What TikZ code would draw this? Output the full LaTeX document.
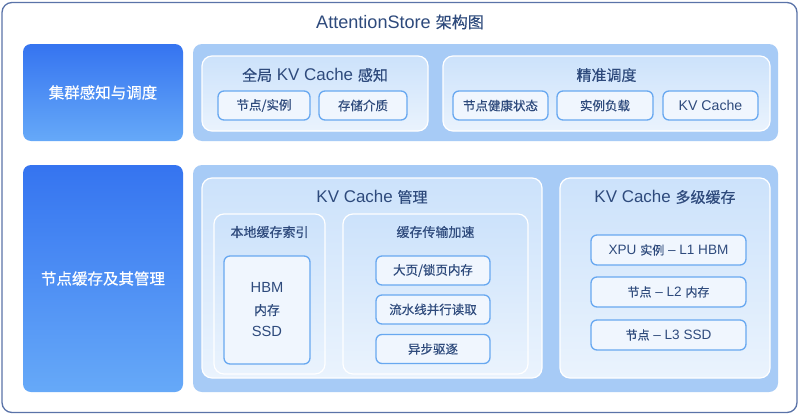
\documentclass[tikz,border=0pt]{standalone}
\usepackage{fontspec}
\setmainfont{Liberation Sans}[Scale=1.13]
\newfontfamily\cjk{Noto Sans CJK SC}[FakeBold=0.4]
\newcommand{\zh}[1]{{\cjk #1}}
\definecolor{frameC}{HTML}{5A73A8}
\definecolor{txtC}{HTML}{2E4A7C}
\definecolor{leftTop}{HTML}{3574F0}
\definecolor{leftBot}{HTML}{66A9F8}
\definecolor{panelC}{HTML}{A7CBF6}
\definecolor{innerTop}{HTML}{CCE2FB}
\definecolor{innerBot}{HTML}{EAF3FD}
\definecolor{subFill}{HTML}{F0F6FE}
\definecolor{subLine}{HTML}{68A8F0}
\tikzset{
  frame/.style={draw=frameC, line width=1.3pt, rounded corners=10pt, fill=white, inner sep=0pt},
  leftbox/.style={rounded corners=8pt, top color=leftTop, bottom color=leftBot, text=white, font=\cjk\fontsize{15.5pt}{18pt}\selectfont, inner sep=0pt},
  panel/.style={rounded corners=9pt, fill=panelC, inner sep=0pt},
  inner/.style={rounded corners=10pt, draw=white, line width=1.2pt, top color=innerTop, bottom color=innerBot, inner sep=0pt},
  subbox/.style={rounded corners=6pt, draw=subLine, line width=1.3pt, fill=subFill, text=txtC, font=\fontsize{12.5pt}{15pt}\selectfont, inner sep=0pt},
  ttl/.style={text=txtC, font=\fontsize{15pt}{18pt}\selectfont, inner sep=0pt},
  sttl/.style={text=txtC, font=\fontsize{13pt}{16pt}\selectfont, inner sep=0pt},
}
\begin{document}
\begin{tikzpicture}[x=1pt,y=-1pt]
\useasboundingbox (0,0) rectangle (800,415);
\node[frame, minimum width=795pt, minimum height=410pt] (frm) at (399.5,207.5) {};
\node[text=txtC, font=\fontsize{16pt}{20pt}\selectfont, inner sep=0pt] (title) at (400,22) {AttentionStore \zh{架构图}};

% left column
\node[leftbox, minimum width=160pt, minimum height=97pt] (l1) at (103,92.5) {集群感知与调度};
\node[leftbox, minimum width=160pt, minimum height=227pt] (l2) at (103,278.5) {节点缓存及其管理};

% panels
\node[panel, minimum width=585pt, minimum height=97pt] (p1) at (485.5,92.5) {};
\node[panel, minimum width=585pt, minimum height=227pt] (p2) at (485.5,278.5) {};

% row 1
\node[inner, minimum width=226pt, minimum height=75pt] (ba) at (315,93.5) {};
\node[ttl] (tA) at (315,75) {\zh{全局} KV Cache \zh{感知}};
\node[subbox, minimum width=92pt, minimum height=29pt] (a1) at (264,105.5) {\zh{节点/实例}};
\node[subbox, minimum width=88pt, minimum height=29pt] (a2) at (363,105.5) {\zh{存储介质}};

\node[inner, minimum width=327pt, minimum height=75pt] (bb) at (606.5,93.5) {};
\node[ttl] (tB) at (606.5,75) {\zh{精准调度}};
\node[subbox, minimum width=95pt, minimum height=29pt] (b1) at (500.5,105.5) {\zh{节点健康状态}};
\node[subbox, minimum width=96pt, minimum height=29pt] (b2) at (605,105.5) {\zh{实例负载}};
\node[subbox, minimum width=95pt, minimum height=29pt] (b3) at (710.5,105.5) {KV Cache};

% row 2: KV Cache management
\node[inner, minimum width=340pt, minimum height=200pt] (km) at (372,278) {};
\node[ttl] (tkm) at (372,197) {KV Cache \zh{管理}};
\node[inner, minimum width=111pt, minimum height=160pt] (idx) at (269.5,294) {};
\node[sttl] (tidx) at (269.5,232) {\zh{本地缓存索引}};
\node[subbox, minimum width=86pt, minimum height=108pt, font=\fontsize{13pt}{22pt}\selectfont, align=center] (hbm) at (267,310) {HBM\\\zh{内存}\\SSD};
\node[inner, minimum width=185pt, minimum height=160pt] (acc) at (435.5,294) {};
\node[sttl] (tacc) at (435.5,232) {\zh{缓存传输加速}};
\node[subbox, minimum width=114pt, minimum height=29pt] (c1) at (433,270.5) {\zh{大页/锁页内存}};
\node[subbox, minimum width=114pt, minimum height=29pt] (c2) at (433,309.5) {\zh{流水线并行读取}};
\node[subbox, minimum width=114pt, minimum height=29pt] (c3) at (433,349) {\zh{异步驱逐}};

% row 2: multi-level cache
\node[inner, minimum width=210pt, minimum height=200pt] (ml) at (665,278) {};
\node[ttl] (tml) at (665,197) {KV Cache \zh{多级缓存}};
\node[subbox, minimum width=155pt, minimum height=30pt, font=\fontsize{12pt}{15pt}\selectfont] (m1) at (668.5,250) {XPU \zh{实例} – L1 HBM};
\node[subbox, minimum width=155pt, minimum height=30pt, font=\fontsize{12pt}{15pt}\selectfont] (m2) at (668.5,292) {\zh{节点} – L2 \zh{内存}};
\node[subbox, minimum width=155pt, minimum height=30pt, font=\fontsize{12pt}{15pt}\selectfont] (m3) at (668.5,335) {\zh{节点} – L3 SSD};
\end{tikzpicture}
\end{document}
